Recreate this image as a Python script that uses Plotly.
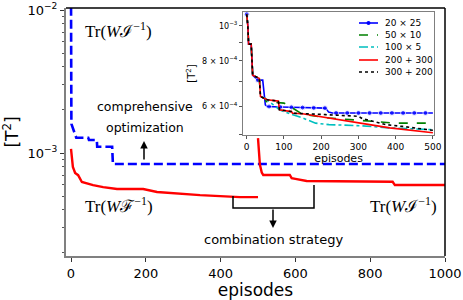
import plotly.graph_objects as go

# ---------------- main plot data ----------------
comp_x = [0, 1, 14, 46, 48, 69, 70, 110, 112, 1000]
comp_y = [1.3e-2, 1.6e-3, 1.28e-3, 1.28e-3, 1.233e-3, 1.233e-3, 1.107e-3, 1.107e-3, 8.38e-4, 8.38e-4]

fim_x = [0, 2, 5, 11, 19, 29, 37, 59, 86, 123, 193, 230, 345, 452, 500]
fim_y = [1.07e-3, 9.0e-4, 8.0e-4, 7.25e-4, 7.0e-4, 6.27e-4, 6.17e-4, 5.97e-4, 5.78e-4,
         5.6e-4, 5.6e-4, 5.34e-4, 5.08e-4, 4.92e-4, 4.92e-4]

comb_x = [500, 505, 510, 514, 585, 590, 600, 618, 630, 860, 866, 1000]
comb_y = [1.27e-3, 8.3e-4, 7.3e-4, 7.02e-4, 7.02e-4, 6.68e-4, 6.6e-4, 6.47e-4, 6.37e-4,
          6.3e-4, 5.97e-4, 5.97e-4]

main_xticks = [0, 200, 400, 600, 800, 1000]

# ---------------- inset data ----------------
s20x25_x = [0, 3, 5, 12, 16, 25, 28, 43, 50, 55, 90, 212, 220, 230, 500]
s20x25_y = [1.076e-3, 1.0e-3, 8.9e-4, 8.9e-4, 7.31e-4, 7.16e-4, 7.08e-4, 7.08e-4, 6.05e-4,
            5.99e-4, 5.97e-4, 5.93e-4, 5.78e-4, 5.75e-4, 5.75e-4]
s20x25_mark_x = [0, 30, 60, 90, 120, 150, 180, 210, 240, 270, 300, 330, 360, 390, 420, 450, 480]
s20x25_mark_y = [1.076e-3, 7.08e-4, 5.99e-4, 5.97e-4, 5.96e-4, 5.95e-4, 5.94e-4, 5.93e-4,
                 5.75e-4, 5.75e-4, 5.75e-4, 5.75e-4, 5.75e-4, 5.75e-4, 5.75e-4, 5.75e-4, 5.75e-4]

s50x10_x = [0, 3, 5, 12, 16, 34, 37, 50, 52, 100, 110, 130, 150, 221, 300, 400, 500]
s50x10_y = [1.076e-3, 1.0e-3, 8.9e-4, 8.9e-4, 7.31e-4, 7.16e-4, 6.38e-4, 6.3e-4, 6.18e-4,
            6.12e-4, 6.05e-4, 5.87e-4, 5.7e-4, 5.57e-4, 5.5e-4, 5.39e-4, 5.39e-4]

s100x5_x = [0, 3, 5, 12, 16, 34, 37, 50, 88, 100, 150, 185, 221, 310, 382, 450, 500]
s100x5_y = [1.076e-3, 1.0e-3, 8.9e-4, 8.9e-4, 7.31e-4, 7.16e-4, 6.38e-4, 6.3e-4, 5.87e-4,
            5.8e-4, 5.57e-4, 5.39e-4, 5.34e-4, 5.3e-4, 5.23e-4, 5.2e-4, 5.17e-4]

s200p300_x = [0, 3, 5, 12, 16, 34, 37, 50, 55, 85, 88, 120, 123, 150, 194, 221, 275, 330,
              384, 455, 500]
s200p300_y = [1.076e-3, 1.0e-3, 8.9e-4, 8.9e-4, 7.31e-4, 7.16e-4, 6.38e-4, 6.3e-4, 6.25e-4,
              6.2e-4, 5.87e-4, 5.8e-4, 5.74e-4, 5.72e-4, 5.63e-4, 5.57e-4, 5.45e-4, 5.34e-4,
              5.23e-4, 5.13e-4, 5.07e-4]

s300p200_x = [0, 3, 5, 12, 16, 34, 37, 50, 55, 85, 88, 120, 123, 212, 300, 310, 373, 418,
              489, 500]
s300p200_y = [1.076e-3, 1.0e-3, 8.9e-4, 8.9e-4, 7.31e-4, 7.16e-4, 6.38e-4, 6.3e-4, 6.25e-4,
              6.2e-4, 5.87e-4, 5.8e-4, 5.74e-4, 5.69e-4, 5.63e-4, 5.55e-4, 5.34e-4, 5.28e-4,
              5.17e-4, 5.15e-4]

inset_names = ["20 × 25", "50 × 10", "100 × 5", "200 + 300", "300 + 200"]
inset_xticks = [0, 100, 200, 300, 400, 500]
inset_yticks = [5e-4, 6e-4, 7e-4, 8e-4, 9e-4, 1e-3]
inset_yticktext = ["", "6 × 10<sup>−4</sup>", "", "8 × 10<sup>−4</sup>", "", "10<sup>−3</sup>"]

FONT = "DejaVu Sans"
SERIF = "Liberation Serif"

styles = [
    dict(color="#0000ff", width=1.6, dash="solid"),
    dict(color="#008000", width=1.6, dash="dash"),
    dict(color="#00bfbf", width=1.6, dash="dashdot"),
    dict(color="#ff0000", width=1.6, dash="solid"),
    dict(color="#000000", width=1.6, dash="dot"),
]

fig = go.Figure()

# main traces
fig.add_trace(go.Scatter(x=comp_x, y=comp_y, mode="lines", showlegend=False,
                         line=dict(color="#0000ff", width=2.6, dash="9px,4px"),
                         xaxis="x", yaxis="y"))
fig.add_trace(go.Scatter(x=fim_x, y=fim_y, mode="lines", showlegend=False,
                         line=dict(color="#ff0000", width=2.4), xaxis="x", yaxis="y"))
fig.add_trace(go.Scatter(x=comb_x, y=comb_y, mode="lines", showlegend=False,
                         line=dict(color="#ff0000", width=2.4), xaxis="x", yaxis="y"))

# inset traces
pts = dict(zip(s20x25_x, s20x25_y))
marks = dict(zip(s20x25_mark_x, s20x25_mark_y))
allx = sorted(set(pts) | set(marks))
ally = [marks.get(x, pts.get(x)) for x in allx]
sizes = [5 if x in marks else 0 for x in allx]
fig.add_trace(go.Scatter(x=allx, y=ally, mode="lines+markers", name=inset_names[0],
                         line=styles[0], marker=dict(size=sizes, color="#0000ff"),
                         showlegend=False, xaxis="x2", yaxis="y2"))
for xs, ys, nm, st in [(s50x10_x, s50x10_y, inset_names[1], styles[1]),
                       (s100x5_x, s100x5_y, inset_names[2], styles[2]),
                       (s200p300_x, s200p300_y, inset_names[3], styles[3]),
                       (s300p200_x, s300p200_y, inset_names[4], styles[4])]:
    fig.add_trace(go.Scatter(x=xs, y=ys, mode="lines", name=nm, line=st,
                             showlegend=False, xaxis="x2", yaxis="y2"))

def px(x):
    return (x - 66) / 379.0

def py(y):
    return (256 - y) / 248.0

annotations = [
    dict(text="Tr(<i>W</i>ℐ<sup>−1</sup>)", x=px(118), y=py(30), font=dict(family=SERIF, size=17)),
    dict(text="Tr(<i>W</i>ℱ<sup>−1</sup>)", x=px(119), y=py(205), font=dict(family=SERIF, size=17)),
    dict(text="Tr(<i>W</i>ℐ<sup>−1</sup>)", x=px(403), y=py(205), font=dict(family=SERIF, size=17)),
    dict(text="comprehensive", x=px(145), y=py(106), font=dict(family=FONT, size=12.5)),
    dict(text="optimization", x=px(145), y=py(127), font=dict(family=FONT, size=12.5)),
    dict(text="combination strategy", x=px(273), y=py(239), font=dict(family=FONT, size=13)),
]
for a in annotations:
    a.update(xref="paper", yref="paper", showarrow=False, xanchor="center", yanchor="middle")
annotations += [
    dict(x=px(144), y=py(141), xref="paper", yref="paper", text="", showarrow=True,
         ax=0, ay=20, arrowhead=2, arrowsize=1, arrowwidth=1.5, arrowcolor="black"),
    dict(x=px(273), y=py(228), xref="paper", yref="paper", text="", showarrow=True,
         ax=0, ay=-20, arrowhead=2, arrowsize=1, arrowwidth=1.5, arrowcolor="black"),
]

shapes = [
    dict(type="line", xref="paper", yref="paper", x0=0, x1=1, y0=1, y1=1,
         line=dict(color="black", width=1.5)),
    dict(type="line", xref="paper", yref="paper", x0=1, x1=1, y0=0, y1=1,
         line=dict(color="black", width=1.5)),
    dict(type="path", xref="paper", yref="paper",
         path=f"M {px(233)},{py(196)} L {px(233)},{py(208)} L {px(314)},{py(208)} L {px(314)},{py(185)}",
         line=dict(color="black", width=1.5)),
]

# inset legend (compact, matplotlib-like)
leg_y = [23, 35, 47, 60, 72]
for i, (nm, st) in enumerate(zip(inset_names, styles)):
    shapes.append(dict(type="line", xref="paper", yref="paper",
                       x0=px(359), x1=px(378), y0=py(leg_y[i]), y1=py(leg_y[i]),
                       line=st))
    annotations.append(dict(text=nm, x=px(383), y=py(leg_y[i]), xref="paper", yref="paper",
                            showarrow=False, xanchor="left", yanchor="middle",
                            font=dict(family=FONT, size=9)))
shapes.append(dict(type="circle", xref="paper", yref="paper",
                   x0=px(366.5), x1=px(370.5), y0=py(leg_y[0] - 2), y1=py(leg_y[0] + 2),
                   fillcolor="#0000ff", line=dict(width=0)))

minor_main = [k * 10.0 ** e for e in (-4, -3) for k in range(2, 10)]

fig.update_layout(
    width=463, height=300,
    margin=dict(l=66, r=18, t=8, b=44),
    paper_bgcolor="white", plot_bgcolor="white",
    font=dict(family=FONT, color="black"),
    showlegend=False,
    xaxis=dict(domain=[0, 1], range=[-13.4, 1000], tickvals=main_xticks, automargin=False,
               showgrid=False, zeroline=False, showline=True, linecolor="#808080", linewidth=2,
               ticks="outside", ticklen=4, tickcolor="#333", tickfont=dict(size=13),
               title=dict(text="episodes", font=dict(size=17))),
    yaxis=dict(domain=[0, 1], type="log", range=[-3.72, -1.986], automargin=False,
               tickvals=[1e-3, 1e-2], ticktext=["10<sup>−3</sup>", "10<sup>−2</sup>"],
               showgrid=False, zeroline=False, showline=True, linecolor="#808080", linewidth=2,
               ticks="outside", ticklen=4, tickcolor="#333", tickfont=dict(size=13),
               minor=dict(tickmode="array", tickvals=minor_main, ticks="outside", ticklen=2.5,
                          tickcolor="#555", showgrid=False),
               title=dict(text="[T<sup>2</sup>]", font=dict(size=17))),
    xaxis2=dict(domain=[0.467, 0.971], anchor="y2", range=[-10, 503], tickvals=inset_xticks,
                automargin=True,
                showgrid=False, zeroline=False, showline=True, mirror=True,
                linecolor="#7f7f7f", linewidth=1, ticks="outside", ticklen=3, tickcolor="#555",
                tickfont=dict(size=9),
                title=dict(text="episodes", font=dict(size=11), standoff=1)),
    yaxis2=dict(domain=[0.488, 0.984], anchor="x2", type="log", range=[-3.301, -2.962],
                tickvals=inset_yticks, ticktext=inset_yticktext, automargin=True,
                showgrid=False, zeroline=False, showline=True, mirror=True,
                linecolor="#7f7f7f", linewidth=1, ticks="outside", ticklen=3, tickcolor="#555",
                tickfont=dict(size=8),
                title=dict(text="[T<sup>2</sup>]", font=dict(size=10), standoff=4)),
    annotations=annotations,
    shapes=shapes,
)

fig.write_html("out.html", config={"displayModeBar": False},
               post_script="document.body.style.margin='0';")
